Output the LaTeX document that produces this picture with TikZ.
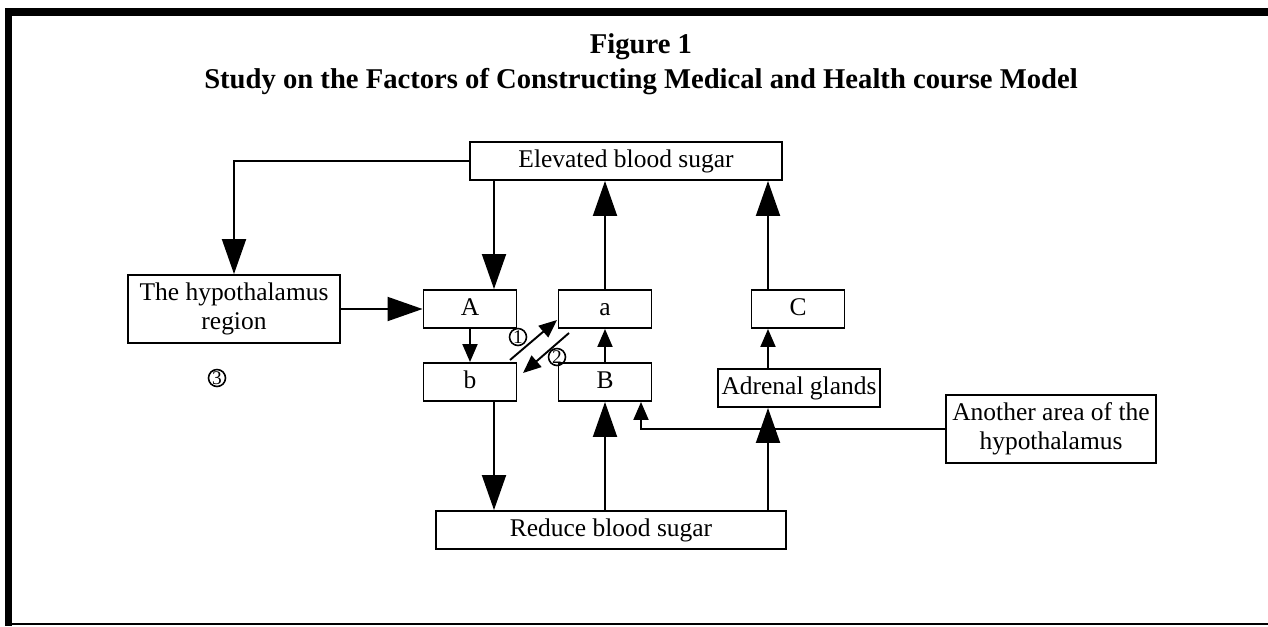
\documentclass[tikz,border=0pt]{standalone}
\usepackage{fontspec}
\setmainfont{Liberation Serif}
\usetikzlibrary{arrows.meta,calc}

\begin{document}
\begin{tikzpicture}[x=0.02cm,y=-0.02cm,
    box/.style={draw, line width=1.1pt, minimum height=0.76cm, inner sep=2pt, text height=0.9em, text depth=0.2em, font=\fontsize{14.5}{16.5}\selectfont},
    tallbox/.style={draw, line width=1.1pt, minimum height=1.36cm, inner sep=2pt, align=center, font=\fontsize{14.5}{16.5}\selectfont},
    big/.style={line width=1.1pt, -{Triangle[length=0.7cm,width=0.48cm]}},
    small/.style={line width=1.1pt, -{Triangle[length=0.36cm,width=0.3cm]}},
    num/.style={circle, draw, line width=0.9pt, inner sep=0pt, minimum size=0.34cm, font=\fontsize{11}{11}\selectfont}]
  \useasboundingbox (0,0) rectangle (1268,626);
  \fill (5,8) rectangle (1268,16);
  \fill (5,8) rectangle (12,626);
  \fill (12,623) rectangle (1268,625);

  \node[font=\bfseries\fontsize{16.3}{20}\selectfont, align=center] (title) at (641,64) {Figure 1\\Study on the Factors of Constructing Medical and Health course Model};

  \node[box, minimum width=6.24cm] (elev) at (626,161) {Elevated blood sugar};
  \node[tallbox, minimum width=4.24cm] (hypo) at (234,309) {The hypothalamus\\region};
  \node[box, minimum width=1.86cm] (A) at (470,309) {A};
  \node[box, minimum width=1.86cm] (a) at (605,309) {a};
  \node[box, minimum width=1.86cm] (b) at (470,382) {b};
  \node[box, minimum width=1.86cm] (B) at (605,382) {B};
  \node[box, minimum width=1.86cm] (C) at (798,309) {C};
  \node[box, minimum width=3.2cm] (adr) at (799,388) {Adrenal glands};
  \node[tallbox, minimum width=4.2cm] (other) at (1051,429) {Another area of the\\hypothalamus};
  \node[box, minimum width=7cm] (reduce) at (611,530) {Reduce blood sugar};
  \node[num] (n1) at (518,337) {1};
  \node[num] (n2) at (557,357) {2};
  \node[num] (n3) at (217,378) {3};

  \coordinate (xl) at (494,0);
  \coordinate (xr) at (768,0);
  \coordinate (xb) at (641,0);
  \coordinate (d1s) at (510,360);
  \coordinate (d1e) at (557,320);
  \coordinate (d2s) at (569,333);
  \coordinate (d2e) at (523,373);

  \draw[big] (elev.west) -| (hypo.north);
  \draw[big] (elev.south -| xl) -- (A.north -| xl);
  \draw[big] (hypo.east) -- (A.west);
  \draw[small] (A.south) -- (b.north);
  \draw[big] (a.north) -- (elev.south -| a.north);
  \draw[small] (B.north) -- (a.south);
  \draw[big] (b.south -| xl) -- (reduce.north -| xl);
  \draw[big] (reduce.north -| B.south) -- (B.south);
  \draw[big] (reduce.north -| xr) -- (adr.south -| xr);
  \draw[small] (adr.north -| xr) -- (C.south -| xr);
  \draw[big] (C.north -| xr) -- (elev.south -| xr);
  \draw[small] (other.west) -| (B.south -| xb);
  \draw[small] (d1s) -- (d1e);
  \draw[small] (d2s) -- (d2e);
\end{tikzpicture}
\end{document}
